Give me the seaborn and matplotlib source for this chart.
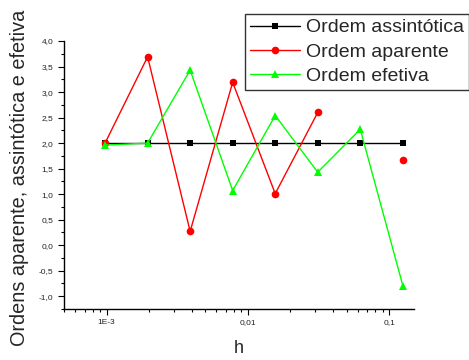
import numpy as np
import pandas as pd
import matplotlib
matplotlib.use("Agg")
import matplotlib.pyplot as plt
import seaborn as sns
from matplotlib.lines import Line2D
from matplotlib.ticker import FixedLocator, FuncFormatter, MultipleLocator, LogLocator, NullFormatter

# grid spacing h = 2^-10 ... 2^-3
h = [0.0009765625, 0.001953125, 0.00390625, 0.0078125, 0.015625, 0.03125, 0.0625, 0.125]
ordem_assintotica = [2.0, 2.0, 2.0, 2.0, 2.0, 2.0, 2.0, 2.0]
ordem_aparente = [2.0, 3.69, 0.27, 3.19, 1.01, 2.60, np.nan, 1.67]
ordem_efetiva = [1.96, 2.0, 3.43, 1.07, 2.54, 1.43, 2.27, -0.79]

series = [
    ("Ordem assintótica", ordem_assintotica, "black", "s", 5),
    ("Ordem aparente", ordem_aparente, "#ff0000", "o", 5.5),
    ("Ordem efetiva", ordem_efetiva, "#00ff00", "^", 6),
]

sns.set_style("ticks")
plt.rcParams["font.family"] = ["Liberation Sans", "DejaVu Sans"]

fig = plt.figure(figsize=(4.69, 3.6), dpi=100)
ax = fig.add_axes([64 / 469, 1 - 309 / 360, (414 - 64) / 469, (309 - 41) / 360])

handles = []
for name, vals, color, marker, ms in series:
    df = pd.DataFrame({"h": h, "v": vals})
    # split into segments where values are missing, so gaps stay open
    df["seg"] = df["v"].isna().cumsum()
    df = df.dropna()
    sns.lineplot(data=df, x="h", y="v", units="seg", estimator=None, ax=ax,
                 color=color, marker=marker, markersize=ms, markeredgewidth=0,
                 linewidth=1, legend=False)
    handles.append(Line2D([], [], color=color, marker=marker, markersize=ms,
                          markeredgewidth=0, linewidth=1, label=name))

ax.set_xscale("log")
ax.set_xlim(5e-4, 0.15)
ax.set_ylim(-1.25, 4.0)

ax.xaxis.set_major_locator(FixedLocator([1e-3, 1e-2, 1e-1]))
ax.xaxis.set_minor_locator(LogLocator(base=10, subs=np.arange(2, 10)))
ax.xaxis.set_minor_formatter(NullFormatter())
ax.xaxis.set_major_formatter(FuncFormatter(lambda v, p: {1e-3: "1E-3", 1e-2: "0,01", 1e-1: "0,1"}.get(round(v, 6), "")))

ax.yaxis.set_major_locator(MultipleLocator(0.5))
ax.yaxis.set_minor_locator(MultipleLocator(0.25))
ax.yaxis.set_major_formatter(FuncFormatter(lambda v, p: f"{v:.1f}".replace(".", ",")))

ax.tick_params(which="major", direction="out", length=4, width=0.8, labelsize=6, colors="black", labelcolor="#222222")
ax.tick_params(which="minor", direction="out", length=2.5, width=0.8, colors="black")

sns.despine(ax=ax)
for s in ("left", "bottom"):
    ax.spines[s].set_color("black")
    ax.spines[s].set_linewidth(1)

ax.set_xlabel("h", fontsize=13, labelpad=10)
ax.set_ylabel("Ordens aparente, assintótica e efetiva", fontsize=14.3)
ax.yaxis.set_label_coords(-0.1, 0.49)

leg = fig.legend(handles=handles, loc="upper left", bbox_to_anchor=(245 / 469, 1 - 14 / 360),
                 fontsize=14, frameon=True, fancybox=False, handlelength=2.6,
                 handletextpad=0.3, labelspacing=0.35, borderpad=0.25, borderaxespad=0)
leg.get_frame().set_edgecolor("black")
leg.get_frame().set_linewidth(1)

fig.savefig("out.png", dpi=100)
